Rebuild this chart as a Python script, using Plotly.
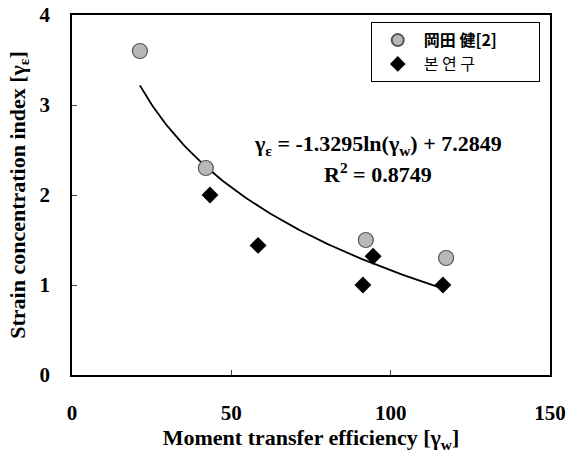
import numpy as np
import plotly.graph_objects as go

okada_x = [21.3, 42.0, 92.2, 117.4]
okada_y = [3.60, 2.30, 1.50, 1.30]
study_x = [43.3, 58.4, 91.3, 94.5, 116.4]
study_y = [2.00, 1.44, 1.00, 1.32, 1.00]
fit_a = -1.3295
fit_b = 7.2849
fit_range = [21.3, 116.4]
x_ticks = [0, 50, 100, 150]
y_ticks = [0, 1, 2, 3, 4]
legend_names = ["岡田 健[2]", "본 연 구"]

serif = "Liberation Serif, Times New Roman, serif"
cjk = "Noto Sans CJK KR, Noto Sans CJK JP, sans-serif"
pad_r = "\u00a0" * 10

fx = np.linspace(fit_range[0], fit_range[1], 120)
fy = fit_a * np.log(fx) + fit_b

fig = go.Figure()
fig.add_trace(go.Scatter(x=fx, y=fy, mode="lines", line=dict(color="black", width=1.8),
                         showlegend=False, hoverinfo="skip"))
fig.add_trace(go.Scatter(x=okada_x, y=okada_y, mode="markers",
                         name=f"<b>{legend_names[0]}</b>{pad_r}",
                         marker=dict(symbol="circle", size=15, color="#b8b8b8",
                                     line=dict(color="#555555", width=1.2))))
fig.add_trace(go.Scatter(x=study_x, y=study_y, mode="markers",
                         name=legend_names[1],
                         marker=dict(symbol="diamond", size=13, color="black",
                                     line=dict(color="black", width=0))))

fig.update_layout(
    width=568, height=463,
    margin=dict(l=72, r=18, t=15, b=88),
    paper_bgcolor="white", plot_bgcolor="white",
    font=dict(family=serif, color="black", size=18),
    legend=dict(x=0.625, y=0.98, xanchor="left", yanchor="top",
                bgcolor="white", bordercolor="black", borderwidth=1,
                font=dict(family=cjk, size=16, color="black"),
                itemsizing="constant", itemwidth=42, tracegroupgap=2),
    xaxis=dict(range=[0, 150], tickvals=x_ticks,
               ticktext=[f"<b>{v}</b>" for v in x_ticks],
               ticks="inside", ticklen=5, ticklabelstandoff=18, automargin=False,
               showgrid=False, zeroline=False, showline=True, linecolor="black",
               linewidth=1.5, mirror=True,
               tickfont=dict(family=serif, size=21, color="black"),
               title=dict(text="<b>Moment transfer efficiency [γ<sub>w</sub>]</b>", standoff=4,
                          font=dict(family=serif, size=22, color="black"))),
    yaxis=dict(range=[0, 4], tickvals=y_ticks,
               ticktext=[f"<b>{v}</b>" for v in y_ticks],
               ticks="inside", ticklen=5, ticklabelstandoff=16, automargin=False,
               showgrid=False, zeroline=False, showline=True, linecolor="black",
               linewidth=1.5, mirror=True,
               tickfont=dict(family=serif, size=21, color="black"),
               title=dict(text="<b>Strain concentration index [γ<sub>ε</sub>]</b>", standoff=8,
                          font=dict(family=serif, size=22, color="black"))),
)

fig.add_annotation(x=96, y=2.56, xref="x", yref="y", showarrow=False, xanchor="center",
                   text="<b>γ<sub>ε</sub> = -1.3295ln(γ<sub>w</sub>) + 7.2849</b>",
                   font=dict(family=serif, size=22, color="black"))
fig.add_annotation(x=96, y=2.25, xref="x", yref="y", showarrow=False, xanchor="center",
                   text="<b>R<sup>2</sup> = 0.8749</b>",
                   font=dict(family=serif, size=22, color="black"))

fig.write_html("out.html")
